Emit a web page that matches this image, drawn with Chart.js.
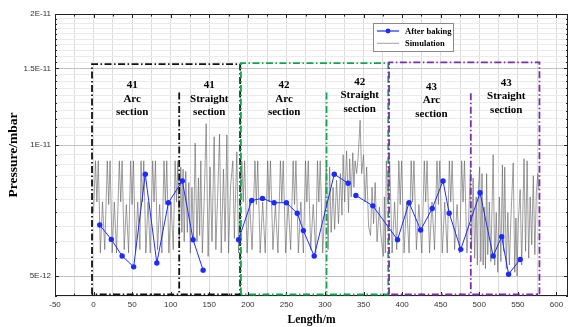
<!DOCTYPE html>
<html>
<head>
<meta charset="utf-8">
<script src="https://cdn.jsdelivr.net/npm/chart.js@4.4.1/dist/chart.umd.min.js"></script>
<style>
  html, body { margin: 0; padding: 0; background: #fff; }
</style>
</head>
<body>
<canvas id="pressureChart" width="573" height="327"></canvas>
<script>
// pressures are written in units of 1E-12 mbar
const E12 = 1e-12;

// After baking (null = break in the measured line)
const bakedLength = [8, 23, 37, 52, 67, 82, 97, 115, 129, 142, 165, 188, 205, 219, 234, 250, 264, 272, 286, 312, 330, 335, 340, 362, 394, 409, 424, 439, 453, 461, 476, 501, 518, 529, 538, 553];
const bakedPressure = [6.55, 6.07, 5.56, 5.25, 8.57, 5.36, 7.37, 8.27, 6.06, 5.16, null, 6.06, 7.46, 7.54, 7.37, 7.37, 6.97, 6.36, 5.56, 8.57, 8.17, null, 7.66, 7.25, 6.06, 7.37, 6.38, 7.15, 8.27, 6.97, 5.76, 7.77, 5.56, 6.16, 5.05, 5.46];

// Simulation, section by section
const sim41ArcLength = [0, 2.5, 4.3, 6.1, 8.8, 11.6, 14.5, 17.8, 19.6, 21.4, 24.1, 26.9, 29.8, 33.4, 35.2, 37.0, 39.7, 42.5, 45.4, 48.1, 49.9, 51.7, 54.4, 57.2, 60.1, 61.5, 63.3, 65.1, 67.8, 70.6, 73.5, 76.6, 78.4, 80.2, 82.9, 85.7, 88.6, 91.3, 93.1, 94.9, 97.6, 100.4, 103.3, 105.7, 107.5, 109.3, 111];
const sim41ArcPressure = [7.0, 9.2, 7.4, 9.2, 5.65, 7.4, 5.75, 9.2, 7.3, 9.2, 5.65, 7.4, 5.65, 9.2, 7.4, 9.2, 5.75, 7.3, 5.65, 9.2, 7.3, 9.2, 5.65, 7.4, 5.75, 9.2, 7.4, 9.2, 5.65, 7.4, 5.65, 9.2, 7.4, 9.2, 5.75, 7.3, 5.65, 9.2, 7.3, 9.2, 5.65, 7.4, 5.75, 9.2, 7.4, 9.2, 6.0];

const sim41StraightLength = [113, 114.5, 116, 117.5, 119.5, 121.5, 123.5, 125.5, 127.5, 129.5, 131.7, 134, 136, 137.5, 139, 141, 143.5, 146, 148.5, 151, 153.5, 156.3, 158.5, 161, 163.3, 165.5, 168.4, 170.5, 172.8, 175, 177.5, 180.5, 182.5, 185.7, 188, 190];
const sim41StraightPressure = [8.9, 6.3, 8.8, 6.0, 8.7, 6.3, 8.2, 5.65, 8.0, 6.0, 10.1, 6.0, 8.4, 6.2, 9.2, 5.65, 7.6, 11.2, 5.55, 8.9, 6.0, 10.45, 5.75, 7.8, 10.6, 5.65, 8.8, 6.0, 10.55, 5.65, 8.0, 9.2, 6.1, 9.65, 5.65, 7.2];

const sim42ArcLength = [192.2, 194, 195.8, 199, 202.2, 205.5, 209.2, 211, 212.8, 216, 219.2, 222.5, 225.7, 227.5, 229.3, 232.5, 235.7, 239, 242.2, 244, 245.8, 249, 252.2, 255.5, 258.7, 260.5, 262.3, 265.5, 268.7, 272, 274.7, 276.5, 278.3, 281.5, 284.7, 288, 290.2, 292, 293.8, 297, 300];
const sim42ArcPressure = [9.2, 7.4, 9.2, 5.65, 7.4, 5.75, 9.2, 7.3, 9.2, 5.65, 7.4, 5.65, 9.2, 7.4, 9.2, 5.75, 7.3, 5.65, 9.2, 7.4, 9.2, 5.65, 7.4, 5.75, 9.2, 7.3, 9.2, 5.65, 7.4, 5.65, 9.2, 7.4, 9.2, 5.75, 7.3, 5.65, 9.2, 7.4, 9.2, 5.65, 7.3];

const sim42StraightLength = [302, 304, 306, 308, 310.5, 312.5, 315, 317.5, 320, 322, 323.5, 325.5, 328, 330.5, 332, 334, 336, 337.5, 339, 341, 343, 345.5, 347.5, 350, 352, 354, 356.5, 359, 361, 363, 365, 367.5, 370.5, 372.5, 375.6, 377, 378.2, 379.5];
const sim42StraightPressure = [9.1, 5.75, 8.9, 6.3, 8.0, 6.4, 8.3, 6.6, 8.6, 6.9, 9.5, 7.4, 9.7, 7.0, 9.3, 7.6, 9.6, 8.0, 9.2, 8.6, 9.4, 11.4, 8.6, 9.5, 7.4, 8.9, 6.5, 6.2, 8.0, 6.6, 8.2, 6.0, 7.2, 6.2, 5.55, 7.6, 5.65, 9.2];

const sim43ArcLength = [380.2, 382, 383.8, 387, 390.2, 393, 395.7, 397.5, 399.3, 402.5, 405.7, 409, 411.7, 413.5, 415.3, 418.5, 421.7, 425.5, 428.7, 430.5, 432.3, 435.5, 438.7, 442, 445.2, 447, 448.8, 452, 455.2, 458.5, 461.2, 463, 464.8, 468, 471.2, 474.5, 477.2, 479, 480.8, 484, 486.5];
const sim43ArcPressure = [9.2, 7.4, 9.2, 5.65, 7.4, 5.75, 9.2, 7.3, 9.2, 5.65, 7.4, 5.65, 9.2, 7.4, 9.2, 5.75, 7.3, 5.65, 9.2, 7.4, 9.2, 5.65, 7.4, 5.75, 9.2, 7.3, 9.2, 5.65, 7.4, 5.65, 9.2, 7.4, 9.2, 5.75, 7.3, 5.65, 9.2, 7.4, 9.2, 5.65, 7.0];

const sim43StraightLength = [488.5, 490, 492, 494, 496, 497.5, 499, 500.5, 502, 503.5, 505, 506.5, 508, 509.5, 511, 513, 515, 518, 520, 522, 524, 526, 528, 530, 531.5, 533, 535, 537, 539, 541, 544, 546, 547.5, 549, 550.5, 553, 555, 558, 560, 562, 564, 566, 568, 570, 572, 574, 576, 577];
const sim43StraightPressure = [8.8, 5.75, 8.4, 5.5, 7.6, 5.3, 8.0, 8.9, 5.4, 8.6, 5.3, 7.2, 5.2, 8.6, 5.6, 7.4, 5.4, 9.5, 5.3, 7.0, 5.1, 7.6, 5.4, 9.0, 5.7, 8.9, 5.2, 7.0, 5.3, 6.8, 9.1, 5.1, 6.8, 5.0, 6.6, 7.9, 5.3, 9.3, 5.7, 9.2, 5.5, 7.6, 5.9, 8.5, 5.6, 7.8, 8.6, 7.9];

// axes
const xLabelValues = [-50, 0, 50, 100, 150, 200, 250, 300, 350, 400, 450, 500, 550, 600];
const yLabelValues = [5e-12, 1e-11, 1.5e-11, 2e-11];
const yLabelTexts = ['5E-12', '1E-11', '1.5E-11', '2E-11'];

// section annotations
const sectionLines = [['41', 'Arc', 'section'], ['41', 'Straight', 'section'], ['42', 'Arc', 'section'],
                      ['42', 'Straight', 'section'], ['43', 'Arc', 'section'], ['43', 'Straight', 'section']];
const sectionCenter = [50, 150, 247, 345, 438, 535];
const sectionTextY = [1.374e-11, 1.374e-11, 1.374e-11, 1.397e-11, 1.36e-11, 1.39e-11];

const boxStart = [-2, 191, 383];
const boxEnd = [190, 382, 578];
const boxTop = [1.535e-11, 1.543e-11, 1.549e-11];
const boxSplit = [111, 302, 489];
const boxSplitTop = [1.32e-11, 1.32e-11, 1.315e-11];
const boxColors = ['#111111', '#12a650', '#7a2fa6'];

function toPoints(xs, ys) {
    const n = Math.min(xs.length, ys.length);
    const pts = [];
    for (let i = 0; i < n; i++) {
        pts.push({ x: xs[i], y: ys[i] === null ? null : ys[i] * E12 });
    }
    return pts;
}

const simPoints = [].concat(
    toPoints(sim41ArcLength, sim41ArcPressure),
    toPoints(sim41StraightLength, sim41StraightPressure),
    toPoints(sim42ArcLength, sim42ArcPressure),
    toPoints(sim42StraightLength, sim42StraightPressure),
    toPoints(sim43ArcLength, sim43ArcPressure),
    toPoints(sim43StraightLength, sim43StraightPressure)
);

function isYLabel(v) {
    return yLabelValues.some(t => Math.abs(t - v) < 1e-15);
}

const SERIF = '"Liberation Serif", "Times New Roman", serif';

const sectionPlugin = {
    id: 'sections',
    beforeDatasetsDraw(chart) {
        const { ctx, chartArea: a } = chart;
        const xs = chart.scales.x, ys = chart.scales.y;
        ctx.save();
        // frame
        ctx.strokeStyle = '#222';
        ctx.lineWidth = 1;
        ctx.strokeRect(a.left + 0.5, a.top + 0.5, a.right - a.left - 1, a.bottom - a.top - 1);
        // inward ticks, origin style
        ctx.beginPath();
        xs.ticks.forEach(t => {
            const px = Math.round(xs.getPixelForValue(t.value)) + 0.5;
            const len = t.value % 50 === 0 ? 4 : 2.5;
            ctx.moveTo(px, a.bottom); ctx.lineTo(px, a.bottom - len);
            ctx.moveTo(px, a.top); ctx.lineTo(px, a.top + len);
        });
        ys.ticks.forEach(t => {
            const py = Math.round(ys.getPixelForValue(t.value)) + 0.5;
            const len = isYLabel(t.value) ? 4 : 2;
            ctx.moveTo(a.left, py); ctx.lineTo(a.left + len, py);
            ctx.moveTo(a.right, py); ctx.lineTo(a.right - len, py);
        });
        ctx.stroke();
        ctx.restore();
    },
    afterDatasetDraw(chart, args) {
        // boxes go above the simulation, under the measured points
        if (args.index !== 1) return;
        const { ctx, chartArea: a } = chart;
        const xs = chart.scales.x, ys = chart.scales.y;
        ctx.save();
        ctx.lineWidth = 1.8;
        ctx.setLineDash([7, 2.5, 1.5, 2.5]);
        const yB = a.bottom - 1.5;
        for (let i = 0; i < boxStart.length; i++) {
            const x0 = xs.getPixelForValue(boxStart[i]);
            const x1 = xs.getPixelForValue(boxEnd[i]);
            const yT = ys.getPixelForValue(boxTop[i]);
            ctx.strokeStyle = boxColors[i];
            ctx.beginPath();
            ctx.moveTo(x0, yB);
            ctx.lineTo(x0, yT);
            ctx.lineTo(x1, yT);
            ctx.lineTo(x1, yB);
            ctx.lineTo(x0, yB);
            const xm = xs.getPixelForValue(boxSplit[i]);
            ctx.moveTo(xm, ys.getPixelForValue(boxSplitTop[i]));
            ctx.lineTo(xm, yB);
            ctx.stroke();
        }
        ctx.restore();
    },
    afterDraw(chart) {
        const { ctx } = chart;
        const xs = chart.scales.x, ys = chart.scales.y;
        ctx.save();
        // section texts
        ctx.fillStyle = '#000';
        ctx.font = 'bold 11px ' + SERIF;
        ctx.textAlign = 'center';
        ctx.textBaseline = 'middle';
        sectionLines.forEach((lines, i) => {
            const cx = xs.getPixelForValue(sectionCenter[i]);
            const y0 = ys.getPixelForValue(sectionTextY[i]);
            lines.forEach((s, j) => ctx.fillText(s, cx, y0 + j * 13.7));
        });

        // legend
        const lx = 373, ly = 23, lw = 80, lh = 28;
        ctx.fillStyle = '#fff';
        ctx.fillRect(lx, ly, lw, lh);
        ctx.strokeStyle = '#8a8a8a';
        ctx.lineWidth = 1;
        ctx.strokeRect(lx + 0.5, ly + 0.5, lw, lh);
        ctx.font = 'bold 8.5px ' + SERIF;
        ctx.textAlign = 'left';
        chart.data.datasets.forEach((ds, i) => {
            const yy = ly + 8 + i * 12.3;
            ctx.strokeStyle = i === 0 ? ds.borderColor : '#a0a0a0';
            ctx.lineWidth = i === 0 ? 1.2 : 1;
            ctx.beginPath();
            ctx.moveTo(lx + 4, yy);
            ctx.lineTo(lx + 26, yy);
            ctx.stroke();
            if (ds.pointRadius > 0) {
                ctx.fillStyle = ds.pointBackgroundColor;
                ctx.beginPath();
                ctx.arc(lx + 15, yy, 2.4, 0, Math.PI * 2);
                ctx.fill();
            }
            ctx.fillStyle = '#000';
            ctx.fillText(ds.label, lx + 32, yy + 0.5);
        });
        ctx.restore();
    }
};

Chart.defaults.font.family = '"Liberation Sans", Arial, sans-serif';

new Chart(document.getElementById('pressureChart'), {
    type: 'line',
    data: {
        datasets: [{
            label: 'After baking',
            data: toPoints(bakedLength, bakedPressure),
            borderColor: '#1c2bff',
            backgroundColor: '#1c2bff',
            pointBackgroundColor: '#1c2bff',
            pointBorderColor: '#1c2bff',
            pointRadius: 2.7,
            pointBorderWidth: 0,
            borderWidth: 1,
            spanGaps: false,
            tension: 0
        }, {
            label: 'Simulation',
            data: simPoints,
            borderColor: 'rgba(95,95,95,0.8)',
            borderWidth: 0.75,
            pointRadius: 0,
            tension: 0
        }]
    },
    options: {
        responsive: false,
        animation: false,
        events: [],
        layout: { padding: { left: 0, right: 5, top: 14, bottom: 0 } },
        plugins: { legend: { display: false }, tooltip: { enabled: false } },
        scales: {
            x: {
                type: 'linear',
                min: -50,
                max: 615,
                bounds: 'data',
                afterBuildTicks: (scale) => {
                    const ticks = [];
                    for (let v = -50; v <= 600; v += 25) ticks.push({ value: v });
                    scale.ticks = ticks;
                },
                afterFit: (scale) => { scale.height = 31; },
                ticks: {
                    autoSkip: false,
                    maxRotation: 0,
                    padding: 4,
                    color: '#333',
                    font: { size: 8 },
                    callback: (v) => xLabelValues.includes(v) ? String(v) : ''
                },
                grid: { color: '#dcdcdc', lineWidth: 1, drawTicks: false },
                border: { display: false },
                title: {
                    display: true,
                    text: 'Length/m',
                    color: '#000',
                    font: { family: SERIF, size: 11.5, weight: 'bold', lineHeight: 1 },
                    padding: { top: 0, bottom: 1.5 }
                }
            },
            y: {
                type: 'logarithmic',
                min: 4.5e-12,
                max: 2e-11,
                bounds: 'data',
                afterBuildTicks: (scale) => {
                    const ticks = [];
                    for (let v = 45; v <= 200; v += 5) ticks.push({ value: v * 1e-13 });
                    scale.ticks = ticks;
                },
                afterFit: (scale) => { scale.width = 55; },
                ticks: {
                    autoSkip: false,
                    padding: 4,
                    color: '#333',
                    font: { size: 8 },
                    callback: (v) => {
                        const i = yLabelValues.findIndex(t => Math.abs(t - v) < 1e-15);
                        return i >= 0 ? yLabelTexts[i] : '';
                    }
                },
                grid: {
                    color: (c) => (c.tick && isYLabel(c.tick.value)) ? '#c2c2c2' : '#ebebeb',
                    lineWidth: 1,
                    drawTicks: false
                },
                border: { display: false },
                title: {
                    display: true,
                    text: 'Pressure/mbar',
                    color: '#000',
                    font: { family: SERIF, size: 13.5, weight: 'bold', lineHeight: 1 },
                    padding: { top: 7, bottom: 0 }
                }
            }
        }
    },
    plugins: [sectionPlugin]
});
</script>
</body>
</html>
